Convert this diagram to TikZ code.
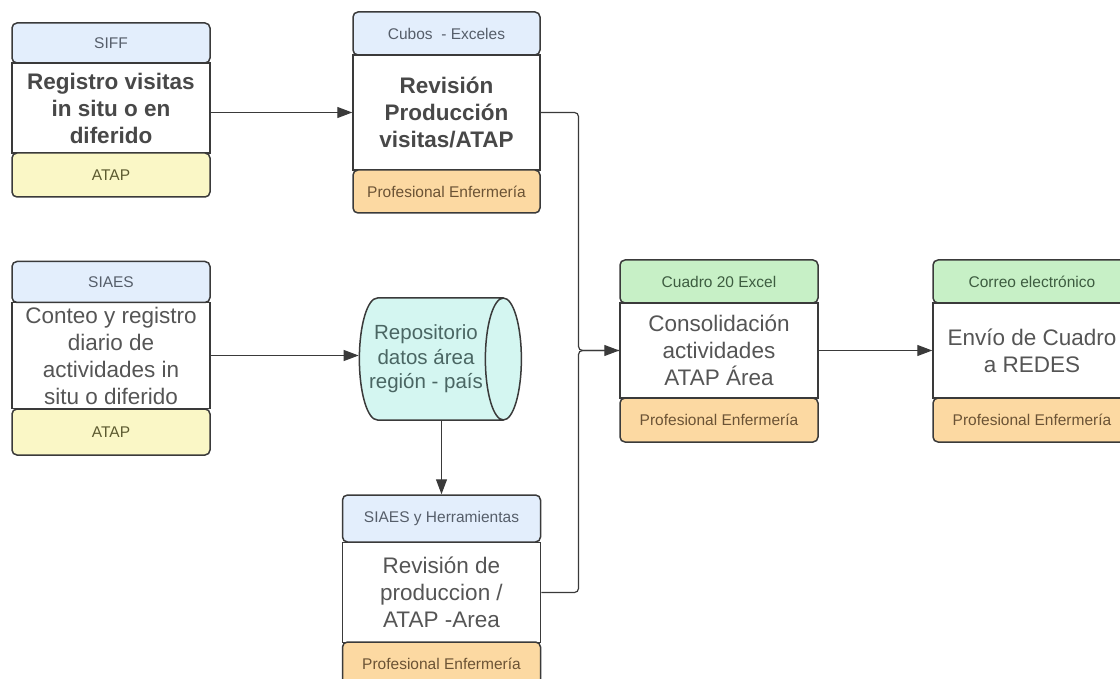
\documentclass[tikz,border=0pt]{standalone}
\usepackage{fontspec}
\setmainfont{Liberation Sans}
\usetikzlibrary{arrows.meta,shapes.geometric}
\definecolor{lineC}{HTML}{3A3A3A}
\definecolor{blueF}{HTML}{E3EEFC}
\definecolor{yellowF}{HTML}{FAF7C6}
\definecolor{orangeF}{HTML}{FCD9A2}
\definecolor{greenF}{HTML}{C7F0C6}
\definecolor{cyanF}{HTML}{D4F6F1}
\definecolor{bodyT}{HTML}{555555}
\definecolor{boldT}{HTML}{484848}
\definecolor{blueT}{HTML}{565E6A}
\definecolor{yellowT}{HTML}{5C5A30}
\definecolor{orangeT}{HTML}{6B5335}
\definecolor{greenT}{HTML}{3D5C40}
\definecolor{cyanT}{HTML}{4A6663}
\begin{document}
\begin{tikzpicture}[x=1pt,y=-1pt,
  part/.style={draw=lineC, line width=1.5pt, inner sep=0pt, anchor=center, align=center},
  bodyb/.style={part, fill=white, text=bodyT, font=\fontsize{22.5}{27}\selectfont},
  boldb/.style={bodyb, text=boldT, font=\fontsize{22.5}{27}\selectfont\bfseries},
  small/.style={part, rounded corners=5pt, font=\fontsize{15.5}{18}\selectfont},
  hblue/.style={small, fill=blueF, text=blueT},
  hgreen/.style={small, fill=greenF, text=greenT},
  fyellow/.style={small, fill=yellowF, text=yellowT},
  forange/.style={small, fill=orangeF, text=orangeT},
  conn/.style={draw=lineC, line width=1.2pt, rounded corners=4pt},
  arr/.style={conn, -{Triangle[length=15pt,width=11pt]}}
]
\useasboundingbox (0,0) rectangle (1120,679);
\clip (0,0) rectangle (1120,679);

% Box 1
\node[boldb, minimum width=198pt, minimum height=90pt] (b1) at (111,108) {Registro visitas\\in situ o en\\diferido};
\node[hblue, minimum width=198pt, minimum height=40pt] (h1) at (111,43) {SIFF};
\node[fyellow, minimum width=198pt, minimum height=44pt] (f1) at (111,175) {ATAP};

% Box 2
\node[boldb, minimum width=187pt, minimum height=115pt] (b2) at (446.5,112.5) {Revisión\\Producción\\visitas/ATAP};
\node[hblue, minimum width=187pt, minimum height=43pt] (h2) at (446.5,33.5) {Cubos\ \ - Exceles};
\node[forange, minimum width=187pt, minimum height=43pt] (f2) at (446.5,191.5) {Profesional Enfermería};

% Box 3
\node[bodyb, minimum width=198pt, minimum height=106pt] (b3) at (111,355.5) {Conteo y registro\\diario de\\actividades in\\situ o diferido};
\node[hblue, minimum width=198pt, minimum height=41pt] (h3) at (111,282) {SIAES};
\node[fyellow, minimum width=198pt, minimum height=46pt] (f3) at (111,432) {ATAP};

% Cylinder
\node[part, cylinder, shape aspect=0.48, minimum width=122pt, minimum height=162pt,
  cylinder uses custom fill, cylinder body fill=cyanF, cylinder end fill=cyanF,
  text=cyanT, font=\fontsize{20.5}{25}\selectfont] (cyl) at (431,359)
  {\hspace*{-10pt}\begin{tabular}{@{}c@{}}Repositorio\\datos área\\región - país\end{tabular}};

% Box 5
\node[bodyb, minimum width=198pt, minimum height=100pt] (b5) at (441.5,592.5) {Revisión de\\produccion /\\ATAP -Area};
\node[hblue, minimum width=198pt, minimum height=47pt] (h5) at (441.5,518.5) {SIAES y Herramientas};
\node[forange, minimum width=198pt, minimum height=44pt] (f5) at (441.5,664) {Profesional Enfermería};

% Box 6
\node[bodyb, minimum width=198pt, minimum height=95pt] (b6) at (719,350.5) {Consolidación\\actividades\\ATAP Área};
\node[hgreen, minimum width=198pt, minimum height=43pt] (h6) at (719,281.5) {Cuadro 20 Excel};
\node[forange, minimum width=198pt, minimum height=44pt] (f6) at (719,420) {Profesional Enfermería};

% Box 7
\node[bodyb, minimum width=198pt, minimum height=95pt] (b7) at (1032,350.5) {Envío de Cuadro\\a REDES};
\node[hgreen, minimum width=198pt, minimum height=43pt] (h7) at (1032,281.5) {Correo electrónico};
\node[forange, minimum width=198pt, minimum height=44pt] (f7) at (1032,420) {Profesional Enfermería};

\coordinate (jn) at (578.5,350.5);

% Connectors
\draw[arr] (b1.east |- b2.west) -- (b2.west);
\draw[arr] (b3.east) -- (cyl.west |- b3.east);
\draw[arr] (h5.north |- cyl.south) -- (h5.north);
\draw[conn] (b5.east) -| (jn) -- (b6.west);
\draw[arr] (b2.east) -| (jn) -- (b6.west);
\draw[arr] (b6.east) -- (b7.west);
\end{tikzpicture}
\end{document}
